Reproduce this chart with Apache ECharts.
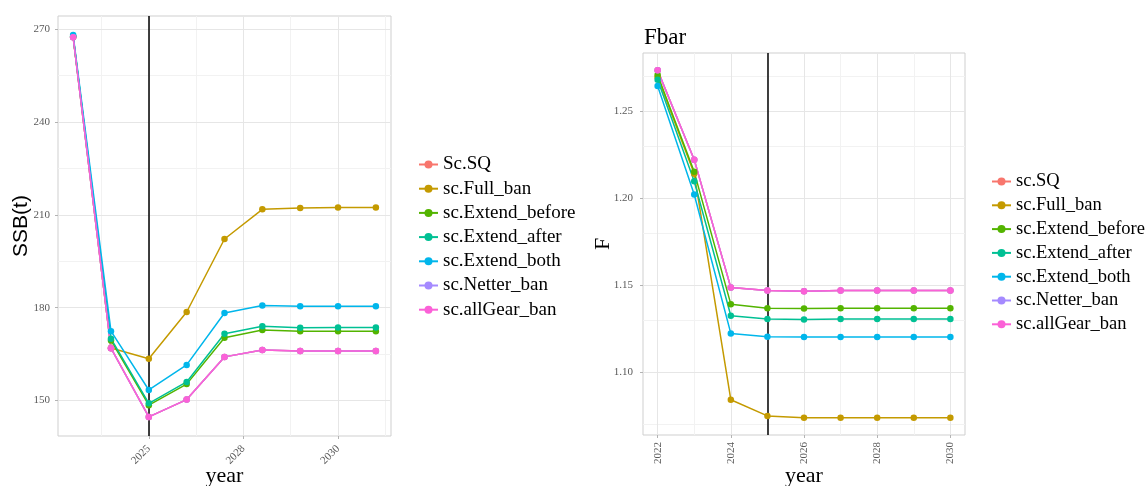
<!DOCTYPE html>
<html>
<head>
<meta charset="utf-8">
<script src="https://cdn.jsdelivr.net/npm/echarts@6/dist/echarts.min.js"></script>
<style>
  html, body { margin: 0; padding: 0; background: #fff; }
  #chart { width: 1146px; height: 486px; }
</style>
</head>
<body>
<div id="chart"></div>
<script>
// ---- SSB panel (left) ----
const ssbYears = [2023, 2024, 2025, 2026, 2027, 2028, 2029, 2030, 2031];
const ssbNames = ['Sc.SQ', 'sc.Full_ban', 'sc.Extend_before', 'sc.Extend_after', 'sc.Extend_both', 'sc.Netter_ban', 'sc.allGear_ban'];
const ssbSQ       = [267.4, 166.9, 144.7, 150.3, 164.1, 166.3, 166.0, 166.0, 166.0];
const ssbFullBan  = [267.6, 167.0, 163.5, 178.6, 202.2, 211.8, 212.2, 212.4, 212.4];
const ssbExtBef   = [267.6, 169.4, 148.5, 155.3, 170.3, 172.8, 172.4, 172.4, 172.4];
const ssbExtAft   = [267.7, 170.0, 149.1, 156.0, 171.6, 174.0, 173.5, 173.6, 173.6];
const ssbExtBoth  = [268.1, 172.4, 153.4, 161.5, 178.3, 180.7, 180.5, 180.5, 180.5];
const ssbNetter   = [267.4, 166.9, 144.7, 150.3, 164.1, 166.3, 166.0, 166.0, 166.0];
const ssbAllGear  = [267.4, 166.9, 144.7, 150.3, 164.1, 166.3, 166.0, 166.0, 166.0];
const ssbYTicks = [150, 180, 210, 240, 270];
const ssbYMinor = [165, 195, 225, 255];
const ssbXTicks = [2025, 2027.5, 2030];
const ssbXTickLabels = ['2025', '2028', '2030'];
const ssbXMinor = [2023.75, 2026.25, 2028.75, 2031.25];

// ---- Fbar panel (right) ----
const fYears = [2022, 2023, 2024, 2025, 2026, 2027, 2028, 2029, 2030];
const fNames = ['sc.SQ', 'sc.Full_ban', 'sc.Extend_before', 'sc.Extend_after', 'sc.Extend_both', 'sc.Netter_ban', 'sc.allGear_ban'];
const fSQ       = [1.2734, 1.2221, 1.1486, 1.1469, 1.1465, 1.1469, 1.1469, 1.1469, 1.1469];
const fFullBan  = [1.2695, 1.2140, 1.0842, 1.0749, 1.0739, 1.0739, 1.0739, 1.0739, 1.0739];
const fExtBef   = [1.2707, 1.2151, 1.1391, 1.1368, 1.1366, 1.1368, 1.1368, 1.1368, 1.1368];
const fExtAft   = [1.2680, 1.2097, 1.1324, 1.1305, 1.1303, 1.1305, 1.1305, 1.1305, 1.1305];
const fExtBoth  = [1.2644, 1.2021, 1.1223, 1.1204, 1.1202, 1.1202, 1.1202, 1.1202, 1.1202];
const fNetter   = [1.2734, 1.2221, 1.1486, 1.1469, 1.1465, 1.1469, 1.1469, 1.1469, 1.1469];
const fAllGear  = [1.2734, 1.2221, 1.1486, 1.1469, 1.1465, 1.1469, 1.1469, 1.1469, 1.1469];
const fYTicks = [1.10, 1.15, 1.20, 1.25];
const fYMinor = [1.075, 1.125, 1.175, 1.225, 1.275];
const fXTicks = [2022, 2024, 2026, 2028, 2030];
const fXMinor = [2023, 2025, 2027, 2029];

const refYear = 2025;
const colors = ['#F8766D', '#C49A00', '#53B400', '#00C094', '#00B6EB', '#A58AFF', '#FB61D7'];

const serif = 'Liberation Serif';
const sans = 'Liberation Sans';

// ggplot-style 5% padding on a continuous range
function padded(values) {
  const lo = Math.min(...values), hi = Math.max(...values);
  const e = (hi - lo) * 0.05;
  return [lo - e, hi + e];
}

const ssbSets = [ssbSQ, ssbFullBan, ssbExtBef, ssbExtAft, ssbExtBoth, ssbNetter, ssbAllGear];
const fSets = [fSQ, fFullBan, fExtBef, fExtAft, fExtBoth, fNetter, fAllGear];

const ssbY = padded(ssbSets.flat());
const fY = padded(fSets.flat());
const ssbX = padded(ssbYears);
const fX = padded(fYears);

function lineSeries(names, sets, years, idx) {
  return names.map((n, i) => ({
    name: n,
    type: 'line',
    xAxisIndex: idx,
    yAxisIndex: idx,
    data: years.map((y, k) => [y, sets[i][k]]),
    color: colors[i],
    symbol: 'circle',
    symbolSize: 6.5,
    lineStyle: { width: 1.5 },
    z: 3,
    animation: false
  }));
}

// background grid + reference line drawn as mark lines on a bare series
function gridSeries(idx, xMajor, xMinor, yMajor, yMinor, anchor) {
  const mk = (axis, v, color, w) => ({ [axis]: v, lineStyle: { color: color, width: w, type: 'solid' } });
  const data = [];
  xMinor.forEach(v => data.push(mk('xAxis', v, '#f2f2f2', 1)));
  yMinor.forEach(v => data.push(mk('yAxis', v, '#f2f2f2', 1)));
  xMajor.forEach(v => data.push(mk('xAxis', v, '#e6e6e6', 1)));
  yMajor.forEach(v => data.push(mk('yAxis', v, '#e6e6e6', 1)));
  data.push(mk('xAxis', refYear, '#000000', 1.5));
  return {
    type: 'line',
    xAxisIndex: idx,
    yAxisIndex: idx,
    data: [anchor],
    symbol: 'none',
    lineStyle: { opacity: 0 },
    silent: true,
    z: 1,
    animation: false,
    markLine: {
      silent: true,
      z: 1,
      symbol: ['none', 'none'],
      label: { show: false },
      emphasis: { disabled: true },
      animation: false,
      data: data
    }
  };
}

const tickLabel = { fontFamily: serif, fontSize: 11, color: '#5a5a5a' };
const axisTitle = { fontFamily: serif, fontSize: 22, color: '#000000' };

const option = {
  backgroundColor: '#ffffff',
  animation: false,
  title: {
    text: 'Fbar',
    left: 639,
    top: 21,
    textStyle: { fontFamily: serif, fontSize: 23, fontWeight: 'normal', color: '#000000' }
  },
  legend: [
    {
      data: ssbNames, left: 413, top: 150, orient: 'vertical',
      itemWidth: 19, itemHeight: 10, itemGap: 5.2, selectedMode: false,
      textStyle: { fontFamily: serif, fontSize: 19, color: '#000000', lineHeight: 18 }
    },
    {
      data: fNames, left: 986, top: 167, orient: 'vertical',
      itemWidth: 19, itemHeight: 10, itemGap: 4.8, selectedMode: false,
      textStyle: { fontFamily: serif, fontSize: 18.5, color: '#000000', lineHeight: 18 }
    }
  ],
  grid: [
    { left: 58, top: 16, width: 333, height: 420, show: true, borderColor: '#cfcfcf', borderWidth: 1, backgroundColor: '#ffffff', containLabel: false, outerBoundsMode: 'none' },
    { left: 643, top: 53, width: 322, height: 382, show: true, borderColor: '#cfcfcf', borderWidth: 1, backgroundColor: '#ffffff', containLabel: false, outerBoundsMode: 'none' }
  ],
  xAxis: [
    {
      type: 'value', gridIndex: 0, min: ssbX[0], max: ssbX[1],
      name: 'year', nameLocation: 'middle', nameGap: 29, nameMoveOverlap: false, nameTextStyle: axisTitle,
      axisLine: { show: false }, splitLine: { show: false },
      axisTick: { show: true, customValues: ssbXTicks, length: 3, lineStyle: { color: '#b3b3b3' } },
      axisLabel: {
        ...tickLabel, rotate: 45, margin: 11, customValues: ssbXTicks,
        formatter: v => ssbXTickLabels[ssbXTicks.indexOf(v)] ?? ''
      }
    },
    {
      type: 'value', gridIndex: 1, min: fX[0], max: fX[1],
      name: 'year', nameLocation: 'middle', nameGap: 30, nameMoveOverlap: false, nameTextStyle: axisTitle,
      axisLine: { show: false }, splitLine: { show: false },
      axisTick: { show: true, customValues: fXTicks, length: 3, lineStyle: { color: '#b3b3b3' } },
      axisLabel: { ...tickLabel, rotate: 90, margin: 7, customValues: fXTicks, formatter: v => String(v) }
    }
  ],
  yAxis: [
    {
      type: 'value', gridIndex: 0, min: ssbY[0], max: ssbY[1],
      name: 'SSB(t)', nameLocation: 'middle', nameGap: 26, nameMoveOverlap: false,
      nameTextStyle: { fontFamily: sans, fontSize: 21, color: '#000000' },
      axisLine: { show: false }, splitLine: { show: false },
      axisTick: { show: true, customValues: ssbYTicks, length: 3, lineStyle: { color: '#b3b3b3' } },
      axisLabel: { ...tickLabel, margin: 8, customValues: ssbYTicks, formatter: v => String(v) }
    },
    {
      type: 'value', gridIndex: 1, min: fY[0], max: fY[1],
      name: 'F', nameLocation: 'middle', nameGap: 29, nameMoveOverlap: false, nameTextStyle: axisTitle,
      axisLine: { show: false }, splitLine: { show: false },
      axisTick: { show: true, customValues: fYTicks, length: 3, lineStyle: { color: '#b3b3b3' } },
      axisLabel: { ...tickLabel, margin: 10, customValues: fYTicks, formatter: v => v.toFixed(2) }
    }
  ],
  series: [
    gridSeries(0, ssbXTicks, ssbXMinor, ssbYTicks, ssbYMinor, [ssbYears[0], ssbSQ[0]]),
    gridSeries(1, fXTicks, fXMinor, fYTicks, fYMinor, [fYears[0], fSQ[0]]),
    ...lineSeries(ssbNames, ssbSets, ssbYears, 0),
    ...lineSeries(fNames, fSets, fYears, 1)
  ]
};

const chart = echarts.init(document.getElementById('chart'), null, { renderer: 'canvas' });
chart.setOption(option);
</script>
</body>
</html>
